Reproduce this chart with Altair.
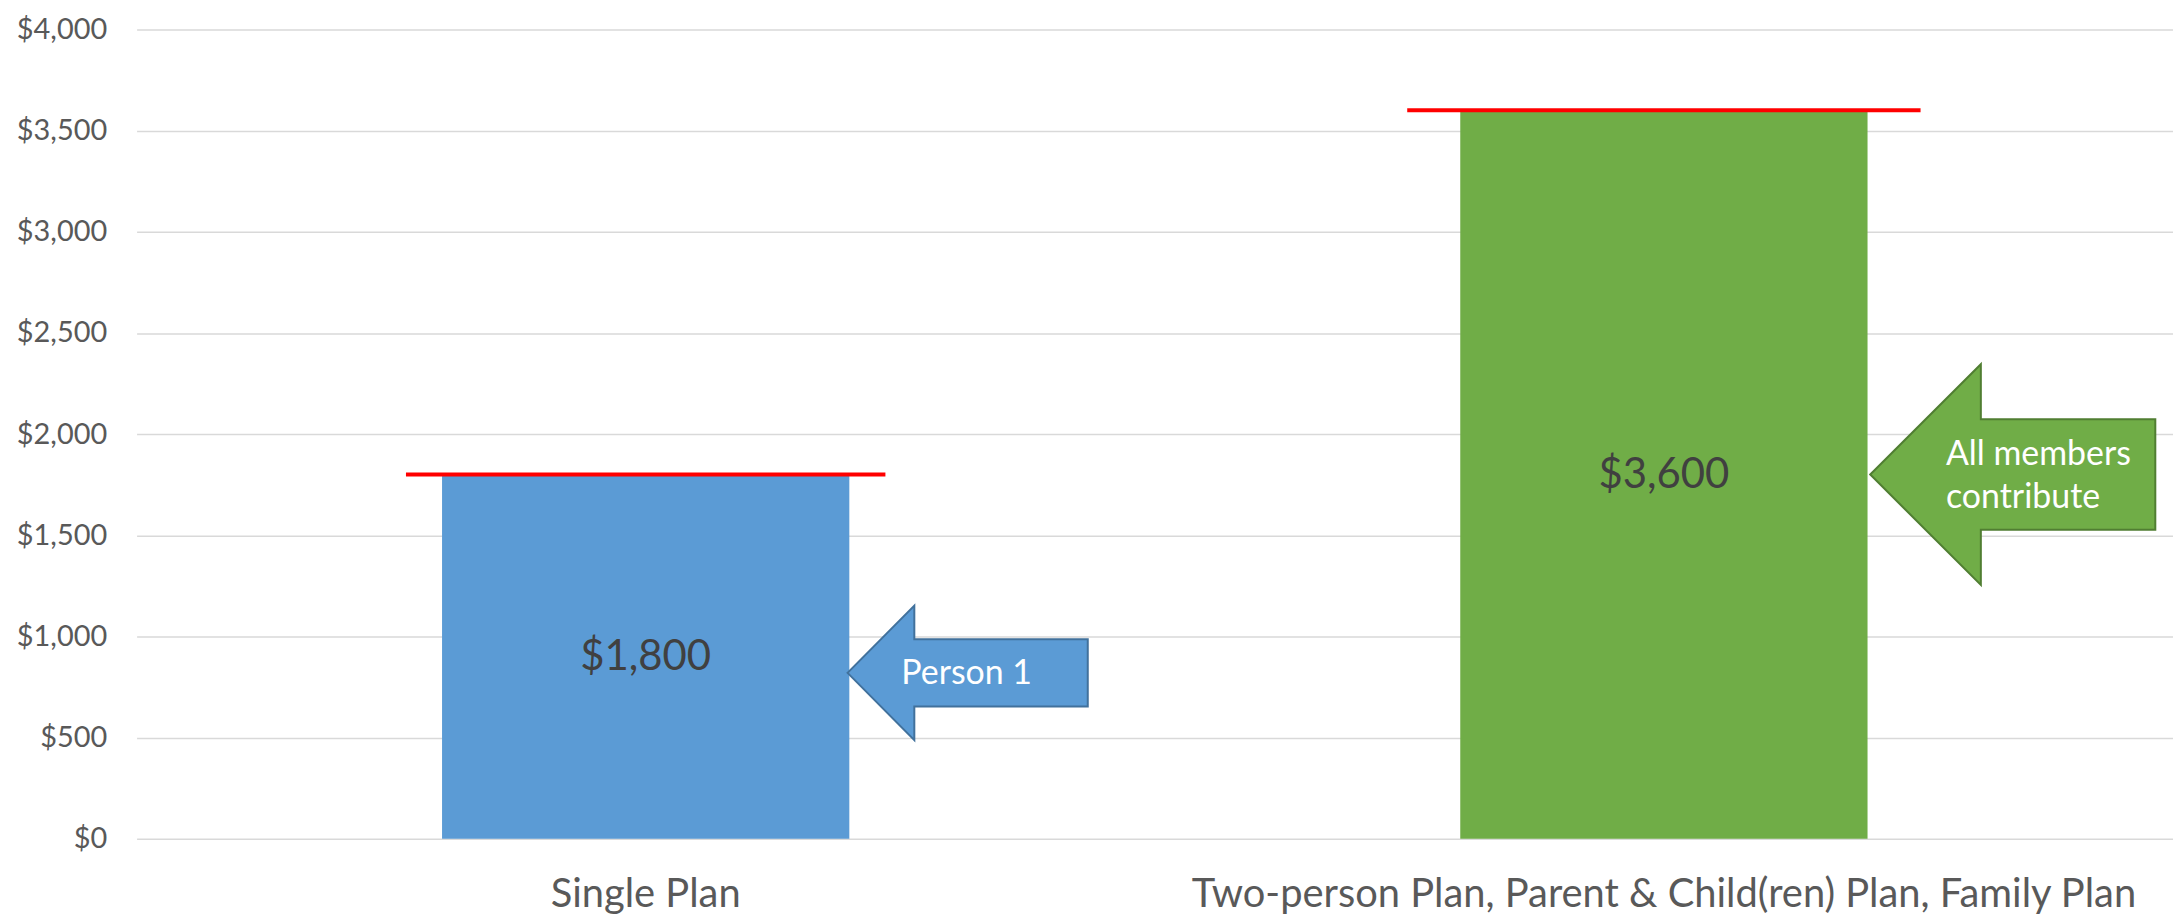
import altair as alt
import pandas as pd

# ---- data ----
plans = ["Single Plan", "Two-person Plan, Parent & Child(ren) Plan, Family Plan"]
amounts = [1800, 3600]
bar_colors = ["#5B9BD5", "#70AD47"]
y_ticks = [0, 500, 1000, 1500, 2000, 2500, 3000, 3500, 4000]

note_plans = ["Single Plan", "Two-person Plan, Parent & Child(ren) Plan, Family Plan"]
note_levels = [820, 1800]
note_texts = ["Person 1", "All members\ncontribute"]

df = pd.DataFrame({"plan": plans, "amount": amounts})
notes = pd.DataFrame({"plan": note_plans, "level": note_levels, "note": note_texts})

FONT = "Lato"

x_axis = alt.Axis(title=None, labelAngle=0, labelFontSize=40, labelColor="#595959", labelFont=FONT,
                  labelPadding=36, labelLimit=0, ticks=False, domain=False, grid=False)
y_axis = alt.Axis(title=None, values=y_ticks, format="$,.0f", labelFontSize=29, labelColor="#595959",
                  labelFont=FONT, labelPadding=30, ticks=False, domain=False,
                  gridColor="#D9D9D9", gridWidth=1.5)
x_scale = alt.Scale(domain=plans, paddingInner=0.6, paddingOuter=0.3)
y_scale = alt.Scale(domain=[0, 4000], nice=False)


def X():
    return alt.X("plan:N", sort=plans, scale=x_scale, axis=x_axis)


def Y(field):
    return alt.Y(field, scale=y_scale, axis=y_axis)


bars = alt.Chart(df).mark_bar().encode(
    x=X(), y=Y("amount:Q"),
    color=alt.Color("plan:N", scale=alt.Scale(domain=plans, range=bar_colors), legend=None),
)

red1 = alt.Chart(df).transform_filter(alt.datum.plan == plans[0]).mark_tick(
    size=481, thickness=4, color="#FF0000", opacity=1
).encode(x=X(), y=Y("amount:Q"))

red2 = alt.Chart(df).transform_filter(alt.datum.plan == plans[1]).mark_tick(
    size=515, thickness=4, color="#FF0000", opacity=1
).encode(x=X(), y=Y("amount:Q"))

values = alt.Chart(df).transform_calculate(mid="datum.amount / 2").mark_text(
    font=FONT, fontSize=42, color="#404040", align="center", baseline="middle"
).encode(x=X(), y=Y("mid:Q"), text=alt.Text("amount:Q", format="$,.0f"))

arrow1_path = "M-1,0 L-0.444,-0.56 L-0.444,-0.28 L1,-0.28 L1,0.28 L-0.444,0.28 L-0.444,0.56 Z"
arrow2_path = "M-1,0 L-0.224,-0.774 L-0.224,-0.388 L1,-0.388 L1,0.388 L-0.224,0.388 L-0.224,0.774 Z"

arrow1 = alt.Chart(notes).transform_filter(alt.datum.plan == plans[0]).mark_point(
    shape=arrow1_path, size=241 * 241, filled=True, fill="#5B9BD5", stroke="#41719C",
    strokeWidth=2, opacity=1, fillOpacity=1, strokeOpacity=1, xOffset=323
).encode(x=X(), y=Y("level:Q"))

arrow2 = alt.Chart(notes).transform_filter(alt.datum.plan == plans[1]).mark_point(
    shape=arrow2_path, size=286 * 286, filled=True, fill="#70AD47", stroke="#507E32",
    strokeWidth=2, opacity=1, fillOpacity=1, strokeOpacity=1, xOffset=350
).encode(x=X(), y=Y("level:Q"))

text1 = alt.Chart(notes).transform_filter(alt.datum.plan == plans[0]).mark_text(
    font=FONT, fontSize=34, color="white", align="center", baseline="middle", xOffset=322, dy=1
).encode(x=X(), y=Y("level:Q"), text="note:N")

text2 = alt.Chart(notes).transform_filter(alt.datum.plan == plans[1]).mark_text(
    font=FONT, fontSize=34, color="white", align="left", baseline="middle", xOffset=283,
    lineBreak="\n", lineHeight=44, dy=-20
).encode(x=X(), y=Y("level:Q"), text="note:N")

chart = alt.layer(bars, red1, red2, values, arrow1, arrow2, text1, text2).properties(
    width=2043, height=812,
    autosize=alt.AutoSizeParams(type="none"),
    padding={"left": 129, "top": 20, "right": 0, "bottom": 80},
    background="white",
).configure_view(stroke=None)

chart.save("out.html", embed_options={"renderer": "svg", "actions": False})
